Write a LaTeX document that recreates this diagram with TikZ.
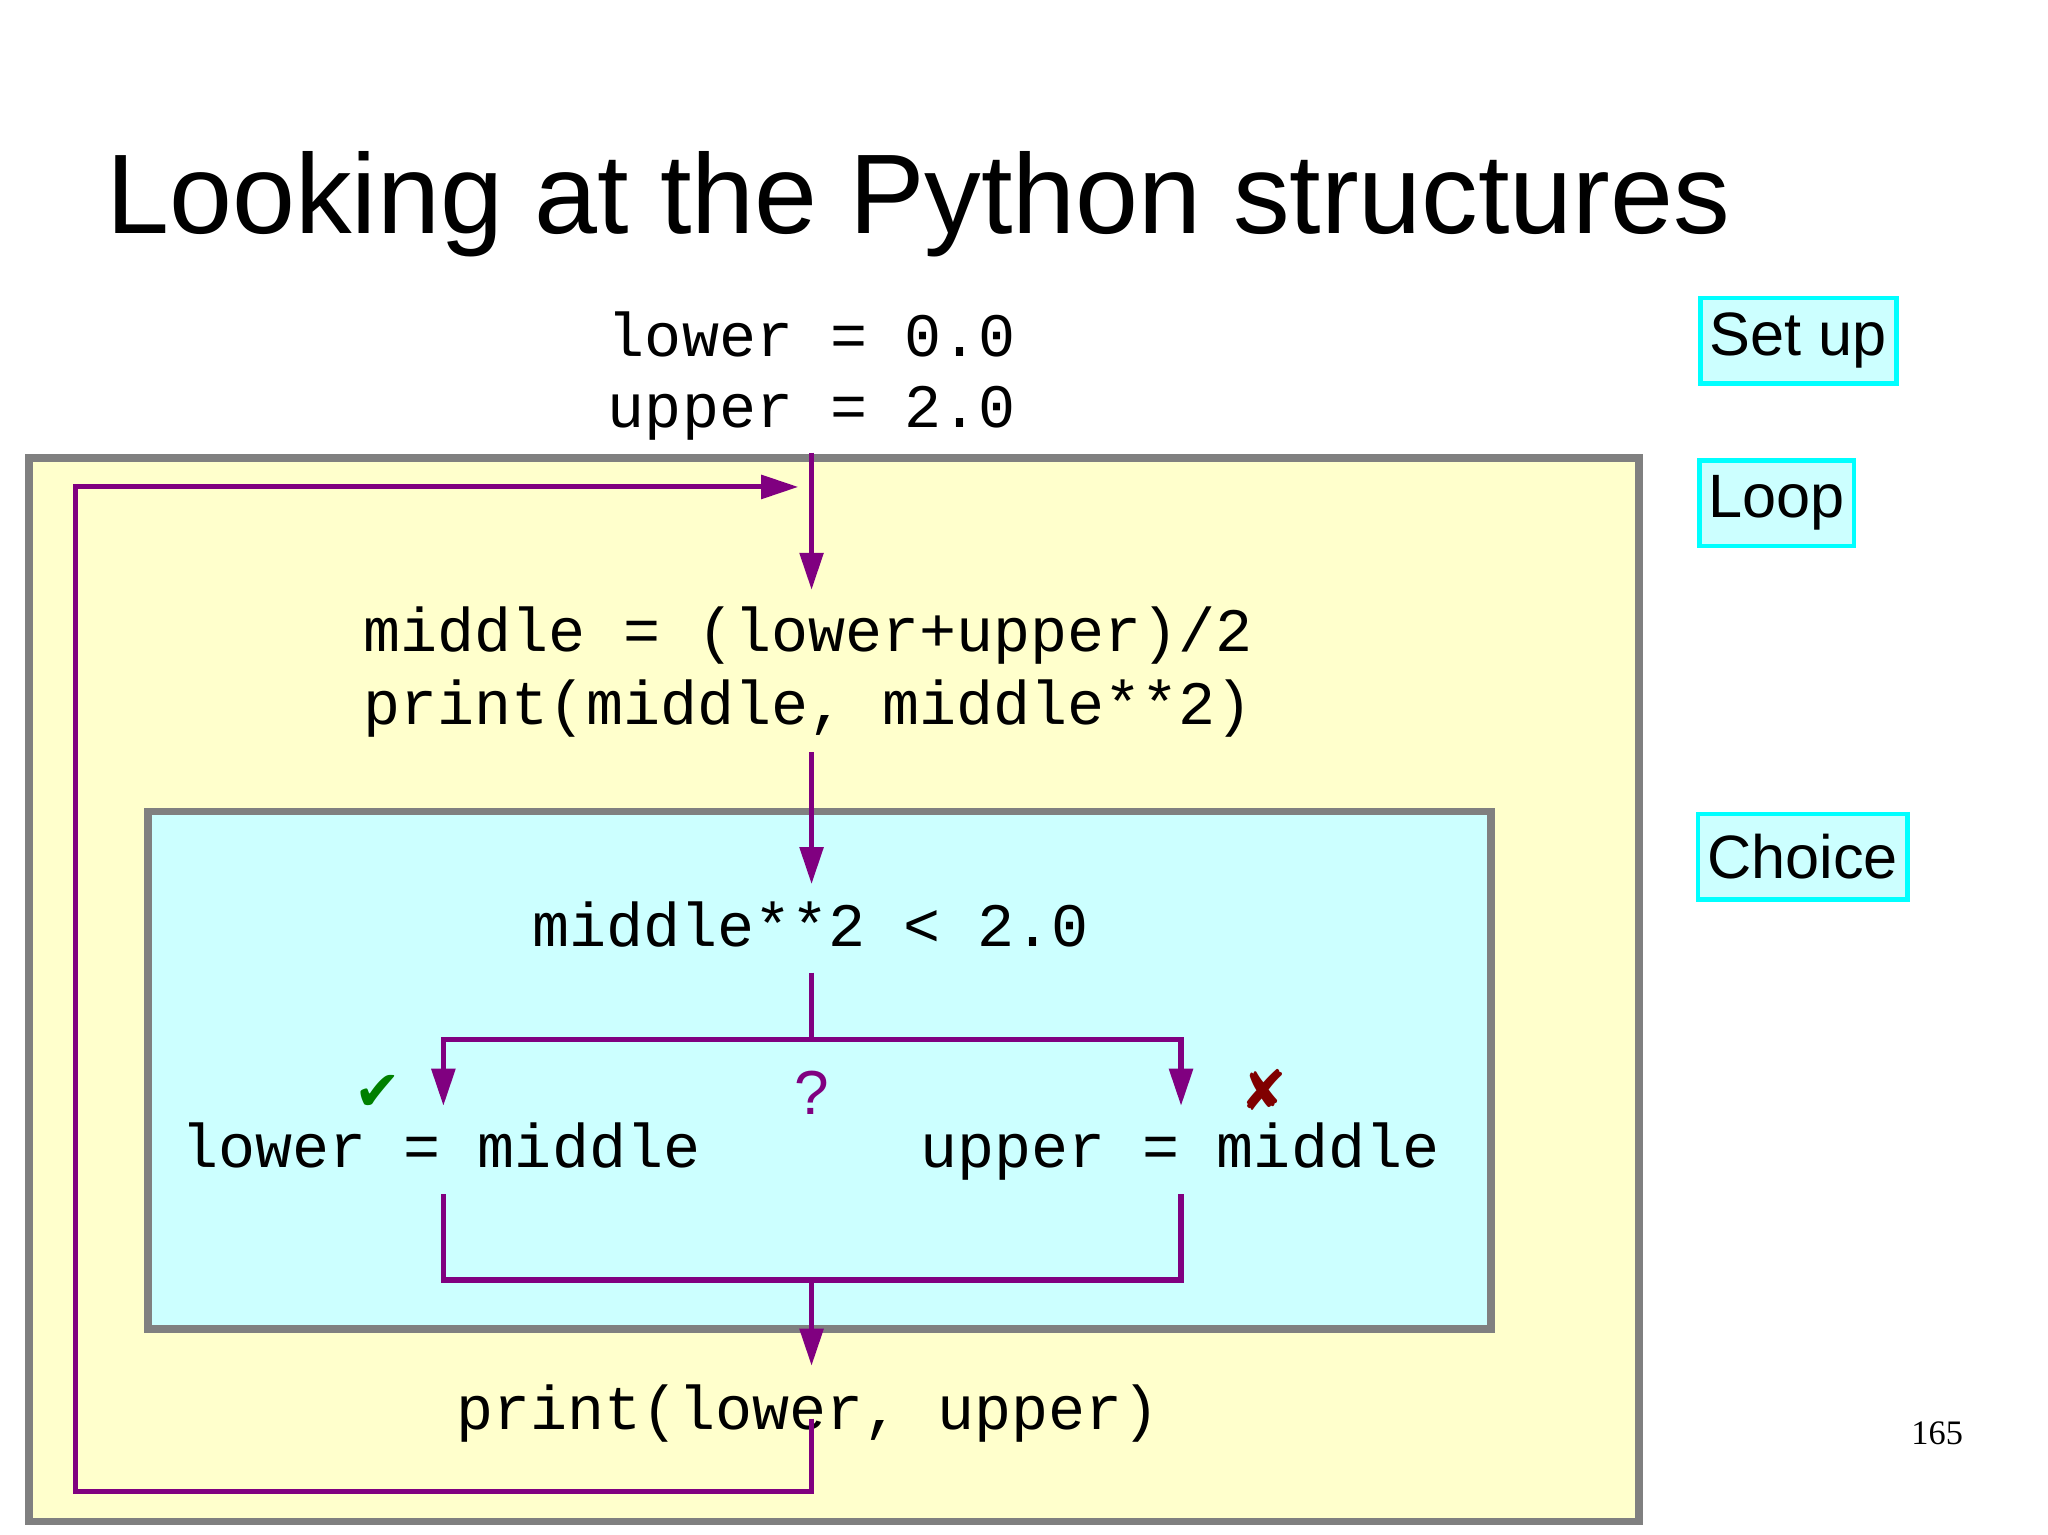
\documentclass[tikz,border=0pt]{standalone}
\usepackage{fontspec}
\setmainfont{Liberation Sans}
\newfontfamily\codefont{Liberation Mono}
\newfontfamily\symfont{DejaVu Sans}
\newfontfamily\pagefont{Liberation Serif}
\usetikzlibrary{arrows.meta}
\definecolor{loopyellow}{HTML}{FFFFCC}
\definecolor{choicecyan}{HTML}{CCFFFF}
\definecolor{flowpurple}{HTML}{800080}
\definecolor{tagcyan}{HTML}{00FFFF}
\begin{document}
\begin{tikzpicture}[x=0.01cm, y=-0.01cm, >={Triangle[length=8pt,width=5pt]},
  every code/.style={font=\codefont\fontsize{13.3}{15.6}\selectfont, inner sep=0pt},
  tag/.style={draw=tagcyan, fill=choicecyan, line width=1pt, font=\fontsize{13.2}{15}\selectfont, inner sep=2pt, anchor=north west, minimum height=0.65cm},
  flow/.style={draw=flowpurple, line width=1.1pt}]

\useasboundingbox (0,0) rectangle (1552,1163);

% boxes
\draw [fill=loopyellow, draw=gray, line width=1.6pt] (22,347) rectangle (1242,1153);
\draw [fill=choicecyan, draw=gray, line width=1.6pt] (112,615) rectangle (1130,1007);

\node [anchor=base west, inner sep=0pt, font=\fontsize{24.4}{30}\selectfont] (title) at (80,177) {Looking at the Python structures};

% code
\node [every code/.try, anchor=base west] (setup1) at (460,270) {lower = 0.0};
\node [every code/.try, anchor=base west] (setup2) at (460,324) {upper = 2.0};
\node [every code/.try, anchor=base west] (body1) at (275,494) {middle = (lower+upper)/2};
\node [every code/.try, anchor=base west] (body2) at (275,549) {print(middle, middle**2)};
\node [every code/.try, anchor=base west] (test) at (403,717) {middle**2 < 2.0};
\node [every code/.try, anchor=base west] (yes) at (137,885) {lower = middle};
\node [every code/.try, anchor=base west] (no) at (697,885) {upper = middle};
\node [every code/.try, anchor=base west] (final) at (345,1083) {print(lower, upper)};

% marks
\node [text=flowpurple, font=\fontsize{13.4}{15}\selectfont, inner sep=0pt] (ask) at (615,828) {?};
\node [text=green!50!black, font=\symfont\fontsize{12}{14}\selectfont, inner sep=0pt] (tick) at (286,828) {✔};
\node [text=red!50!black, font=\symfont\fontsize{12}{14}\selectfont, inner sep=0pt] (cross) at (958,826) {✘};

% tags
\node [tag] (tag-setup) at (1287,224) {Set up};
\node [tag] (tag-loop) at (1286,347) {Loop};
\node [tag] (tag-choice) at (1285,615) {Choice};
\node [anchor=base, font=\pagefont\fontsize{7.4}{9}\selectfont, inner sep=0pt] (page) at (1468,1095) {165};

% flow points
\coordinate (enter) at (615,343);
\coordinate (body-in) at (615,447);
\coordinate (body-out) at (615,570);
\coordinate (test-in) at (615,670);
\coordinate (test-out) at (615,737);
\coordinate (split) at (615,788);
\coordinate (split-l) at (336,788);
\coordinate (split-r) at (895,788);
\coordinate (yes-in) at (336,838);
\coordinate (no-in) at (895,838);
\coordinate (yes-out) at (336,905);
\coordinate (no-out) at (895,905);
\coordinate (join-l) at (336,970);
\coordinate (join-r) at (895,970);
\coordinate (join) at (615,970);
\coordinate (final-in) at (615,1035);
\coordinate (final-out) at (615,1075);
\coordinate (back-1) at (615,1130);
\coordinate (back-2) at (57,1130);
\coordinate (back-3) at (57,369);
\coordinate (back-4) at (605,369);

%drawing part
\draw [flow, ->] (enter) -- (body-in);
\draw [flow, ->] (body-out) -- (test-in);
\draw [flow] (test-out) -- (split);
\draw [flow, ->] (split) -- (split-l) -- (yes-in);
\draw [flow, ->] (split) -- (split-r) -- (no-in);
\draw [flow] (yes-out) -- (join-l) -- (join-r) -- (no-out);
\draw [flow, ->] (join) -- (final-in);
\draw [flow, ->] (final-out) -- (back-1) -- (back-2) -- (back-3) -- (back-4);

\end{tikzpicture}
\end{document}
